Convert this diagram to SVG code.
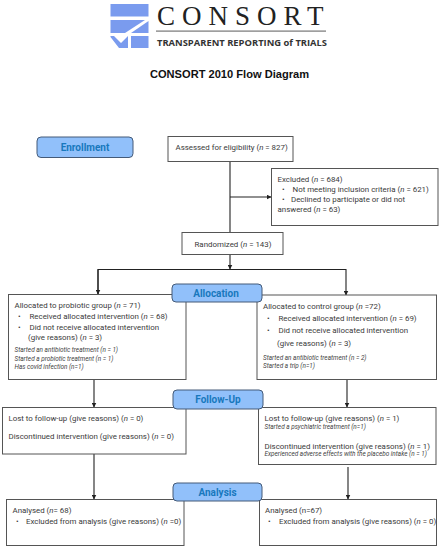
<svg xmlns="http://www.w3.org/2000/svg" width="440" height="550" viewBox="0 0 440 550">
<style>
text{font-family:Roboto,"Noto Sans",sans-serif;font-size:7.9px;fill:#3a3a3a}
.box{fill:#fff;stroke:#555;stroke-width:1}
.pill{fill:#91c0fa;stroke:#445a78;stroke-width:1}
.ph{font-size:10px;font-weight:700;fill:#1878bd;text-anchor:middle}
.sm{font-size:6.400px;font-style:italic;fill:#444}
.i{font-style:italic}
.c{fill:none;stroke:#222;stroke-width:1.1}
</style>
<defs><marker id="a" markerWidth="5" markerHeight="5" refX="4.5" refY="2.5" orient="auto" markerUnits="userSpaceOnUse"><path d="M0,0L5,2.500L0,5z" fill="#222"/></marker></defs>
<rect width="440" height="550" fill="#fff"/>
<g id="logo">
<rect x="110.500" y="4" width="38" height="12.500" fill="#7a9bee"/>
<path d="M110.500 20H145L125 33H110.500z" fill="#7a9bee"/>
<path d="M148.500 21V33H131z" fill="#7a9bee"/>
<path d="M110.500 36H114L121 43L128 36V48H119L110.500 37z" fill="#7a9bee"/>
<rect x="131" y="36" width="17.500" height="12" fill="#7a9bee"/>
<text x="157" y="25" style="font-family:'Liberation Serif',serif;font-size:27px;fill:#222;letter-spacing:7px">CONSORT</text>
<rect x="156" y="30.500" width="170" height="1.200" fill="#777"/>
<text x="157" y="46" style="font-family:'Open Sans',sans-serif;font-size:9.400px;font-weight:700;fill:#333">TRANSPARENT REPORTING of TRIALS</text>
</g>
<text id="title" x="229.500" y="78" text-anchor="middle" style="font-family:'Liberation Sans',sans-serif;font-size:11.100px;font-weight:700;fill:#111">CONSORT 2010 Flow Diagram</text>
<g id="connectors">
<path class="c" d="M230 161V232"/>
<path class="c" d="M230 197H271" marker-end="url(#a)"/>
<path class="c" d="M230 254V269" marker-end="url(#a)"/>
<path class="c" d="M98 294V269.500H346V295" marker-end="url(#a)"/>
<path class="c" d="M98 269.500V294" marker-end="url(#a)"/>
<path class="c" d="M94 380V407" marker-end="url(#a)"/>
<path class="c" d="M347 380V407" marker-end="url(#a)"/>
<path class="c" d="M94 454V499" marker-end="url(#a)"/>
<path class="c" d="M348 467V499" marker-end="url(#a)"/>
</g>
<g id="assessed"><rect class="box" x="168" y="136.500" width="125" height="25"/><text x="175.500" y="150">Assessed for eligibility (<tspan class="i">n</tspan> = 827)</text></g>
<g id="excluded"><rect class="box" x="271.500" y="168.500" width="166.500" height="57"/>
<text x="277.500" y="182">Excluded (<tspan class="i">n</tspan> = 684)</text>
<text x="282" y="192">•</text><text x="292.500" y="192">Not meeting inclusion criteria (<tspan class="i">n</tspan> = 621)</text>
<text x="282" y="202">•</text><text x="291" y="202">Declined to participate or did not</text>
<text x="277.500" y="212">answered (<tspan class="i">n</tspan> = 63)</text></g>
<g id="randomized"><rect class="box" x="182" y="232.500" width="101" height="22"/><text x="194.500" y="246.500">Randomized (<tspan class="i">n</tspan> = 143)</text></g>
<g id="alloc-left"><rect class="box" x="8.500" y="294.500" width="177.500" height="85"/>
<text x="14.500" y="308">Allocated to probiotic group (<tspan class="i">n</tspan> = 71)</text>
<text x="18" y="319">•</text><text x="29.500" y="319">Received allocated intervention (<tspan class="i">n</tspan> = 68)</text>
<text x="18" y="330">•</text><text x="29.500" y="330">Did not receive allocated intervention</text>
<text x="28" y="340">(give reasons) (<tspan class="i">n</tspan> = 3)</text>
<text class="sm" x="14.500" y="352">Started an antibiotic treatment (n = 1)</text>
<text class="sm" x="14.500" y="360.500">Started a probiotic treatment (n = 1)</text>
<text class="sm" x="14.500" y="369">Has covid infection (n=1)</text></g>
<g id="alloc-right"><rect class="box" x="257" y="295" width="179.500" height="84.500"/>
<text x="263" y="309">Allocated to control group (<tspan class="i">n</tspan> =72)</text>
<text x="267" y="320.500">•</text><text x="278.500" y="320.500">Received allocated intervention (<tspan class="i">n</tspan> = 69)</text>
<text x="267" y="333">•</text><text x="278.500" y="333">Did not receive allocated intervention</text>
<text x="277" y="346">(give reasons) (<tspan class="i">n</tspan> = 3)</text>
<text class="sm" x="263" y="360">Started an antibiotic treatment (n = 2)</text>
<text class="sm" x="263" y="368">Started a trip (n=1)</text></g>
<g id="follow-left"><rect class="box" x="2.500" y="407.500" width="183.500" height="46.500"/>
<text x="8.500" y="421">Lost to follow-up (give reasons) (<tspan class="i">n</tspan> = 0)</text>
<text x="8.500" y="439">Discontinued intervention (give reasons) (<tspan class="i">n</tspan> = 0)</text></g>
<g id="follow-right"><rect class="box" x="258.500" y="407.500" width="177.500" height="57"/>
<text x="264.500" y="421">Lost to follow-up (give reasons) (<tspan class="i">n</tspan> = 1)</text>
<text class="sm" x="264.500" y="429">Started a psychiatric treatment (n=1)</text>
<text x="264.500" y="448.500">Discontinued intervention (give reasons) (<tspan class="i">n</tspan> = 1)</text>
<text class="sm" x="264.500" y="456">Experienced adverse effects with the placebo intake (n = 1)</text></g>
<g id="analysed-left"><rect class="box" x="6.500" y="499.500" width="177.500" height="46"/>
<text x="12.500" y="513">Analysed (<tspan class="i">n</tspan>= 68)</text>
<text x="16" y="524">•</text><text x="26" y="524">Excluded from analysis (give reasons) (<tspan class="i">n</tspan> =0)</text></g>
<g id="analysed-right"><rect class="box" x="259.500" y="499.500" width="177" height="46"/>
<text x="265" y="513">Analysed (n=67)</text>
<text x="268" y="524">•</text><text x="279" y="524">Excluded from analysis (give reasons) (<tspan class="i">n</tspan> = 0)</text></g>
<g id="enrollment"><rect class="pill" x="37" y="137" width="96" height="20.500" rx="4"/><text class="ph" x="85" y="151">Enrollment</text></g>
<g id="allocation"><rect class="pill" x="172" y="284" width="90" height="18" rx="4"/><text class="ph" x="216" y="296.500">Allocation</text></g>
<g id="follow-up"><rect class="pill" x="173" y="390" width="90" height="19" rx="4"/><text class="ph" x="218" y="403">Follow-Up</text></g>
<g id="analysis"><rect class="pill" x="173" y="483" width="89" height="18" rx="4"/><text class="ph" x="217.500" y="496">Analysis</text></g>
</svg>
